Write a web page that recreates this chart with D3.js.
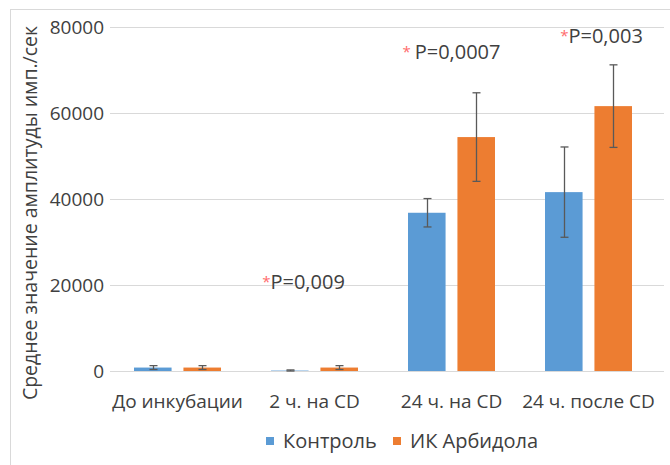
<!DOCTYPE html>
<html>
<head>
<meta charset="utf-8">
<script src="https://cdn.jsdelivr.net/npm/d3@7"></script>
<style>
    body { margin: 0; background: #fff; }
    svg text { font-family: "Open Sans", "Noto Sans", sans-serif; fill: #404040; }
</style>
</head>
<body>
<svg id="chart" width="670" height="465"></svg>
<script>
    'use strict';

    const categories = ['До инкубации', '2 ч. на CD', '24 ч. на CD', '24 ч. после CD'];
    const seriesNames = ['Контроль', 'ИК Арбидола'];
    const control = [800, 100, 36800, 41600];
    const controlErr = [450, 150, 3300, 10500];
    const arbidol = [800, 800, 54400, 61600];
    const arbidolErr = [450, 450, 10300, 9600];
    const yTicks = [0, 20000, 40000, 60000, 80000];
    // p-value notes: category index and height in data units
    const noteCats = [1, 2, 3];
    const noteValues = [19100, 72600, 76300];
    const noteTexts = ['P=0,009', 'P=0,0007', 'P=0,003'];
    const noteStars = ['*', '* ', '*'];
    const noteShift = [-11, 0, 13];

    const colors = ['#5b9bd5', '#ed7d31'];
    const svg = d3.select('#chart');

    // outer frame
    svg.append('rect')
        .attr('x', 10.5).attr('y', 9.5)
        .attr('width', 680).attr('height', 480)
        .attr('fill', 'none').attr('stroke', '#d9d9d9');

    const y = d3.scaleLinear().domain([0, 80000]).range([371, 27]);
    const x = d3.scaleBand().domain(categories).range([109, 657]);
    const inner = d3.scaleBand().domain(seriesNames).range([25, 112]).paddingInner(0.24);

    // gridlines
    svg.append('g').selectAll('line')
        .data(yTicks)
        .join('line')
        .attr('x1', 110).attr('x2', 664)
        .attr('y1', d => Math.round(y(d)) + 0.5)
        .attr('y2', d => Math.round(y(d)) + 0.5)
        .attr('stroke', '#d9d9d9');

    const yAxis = svg.append('g')
        .attr('transform', 'translate(104,0)')
        .call(d3.axisLeft(y).tickValues(yTicks).tickSize(0).tickPadding(0).tickFormat(d3.format('d')));
    yAxis.select('.domain').remove();
    yAxis.selectAll('text')
        .attr('font-size', 19).attr('fill', '#595959')
        .attr('font-family', '"Open Sans", sans-serif');

    const rows = categories.map((c, i) => [
        { cat: c, s: seriesNames[0], v: control[i], e: controlErr[i], k: 0 },
        { cat: c, s: seriesNames[1], v: arbidol[i], e: arbidolErr[i], k: 1 }
    ]).flat();

    svg.append('g').selectAll('rect')
        .data(rows)
        .join('rect')
        .attr('x', d => x(d.cat) + inner(d.s))
        .attr('y', d => y(d.v))
        .attr('width', inner.bandwidth())
        .attr('height', d => y(0) - y(d.v))
        .attr('fill', d => colors[d.k]);

    // error bars
    const errs = svg.append('g').attr('stroke', '#595959').attr('stroke-width', 1.3);
    rows.forEach(d => {
        const cx = Math.round(x(d.cat) + inner(d.s) + inner.bandwidth() / 2) + 0.5;
        const top = y(d.v + d.e), bot = y(Math.max(0, d.v - d.e));
        errs.append('line').attr('x1', cx).attr('x2', cx).attr('y1', top).attr('y2', bot);
        errs.append('line').attr('x1', cx - 4).attr('x2', cx + 4).attr('y1', top).attr('y2', top);
        errs.append('line').attr('x1', cx - 4).attr('x2', cx + 4).attr('y1', bot).attr('y2', bot);
    });

    const xAxis = svg.append('g')
        .attr('transform', 'translate(0,371)')
        .call(d3.axisBottom(x).tickSize(0).tickPadding(24));
    xAxis.select('.domain').remove();
    xAxis.selectAll('text')
        .attr('font-size', 19).attr('fill', '#404040')
        .attr('font-family', '"Open Sans", sans-serif');

    // p-value notes, red star smaller and raised
    const noteText = svg.append('g').selectAll('text')
        .data(noteCats)
        .join('text')
        .attr('x', (c, i) => x(categories[c]) + x.bandwidth() / 2 + noteShift[i])
        .attr('y', (c, i) => y(noteValues[i]))
        .attr('text-anchor', 'middle')
        .attr('font-size', 20)
        .attr('fill', '#595959');
    noteText.append('tspan')
        .style('fill', '#ff6b6b')
        .attr('font-size', 15)
        .attr('dy', -2)
        .attr('xml:space', 'preserve')
        .text((c, i) => noteStars[i]);
    noteText.append('tspan').attr('dy', 2).text((c, i) => noteTexts[i]);

    // axis title
    svg.append('text')
        .attr('transform', 'translate(37,213) rotate(-90)')
        .attr('text-anchor', 'middle')
        .attr('font-size', 19.5)
        .attr('fill', '#202020')
        .text('Среднее значение амплитуды имп./сек');

    // legend
    const legend = svg.append('g').attr('transform', 'translate(266,441)');
    const items = legend.selectAll('g')
        .data(seriesNames)
        .join('g')
        .attr('transform', (d, i) => `translate(${i * 127},0)`);
    items.append('rect')
        .attr('x', 0).attr('y', -4)
        .attr('width', 8).attr('height', 8)
        .attr('fill', (d, i) => colors[i]);
    items.append('text')
        .attr('x', 17).attr('y', 7)
        .attr('font-size', 20)
        .attr('fill', '#404040')
        .text(d => d);
</script>
</body>
</html>
